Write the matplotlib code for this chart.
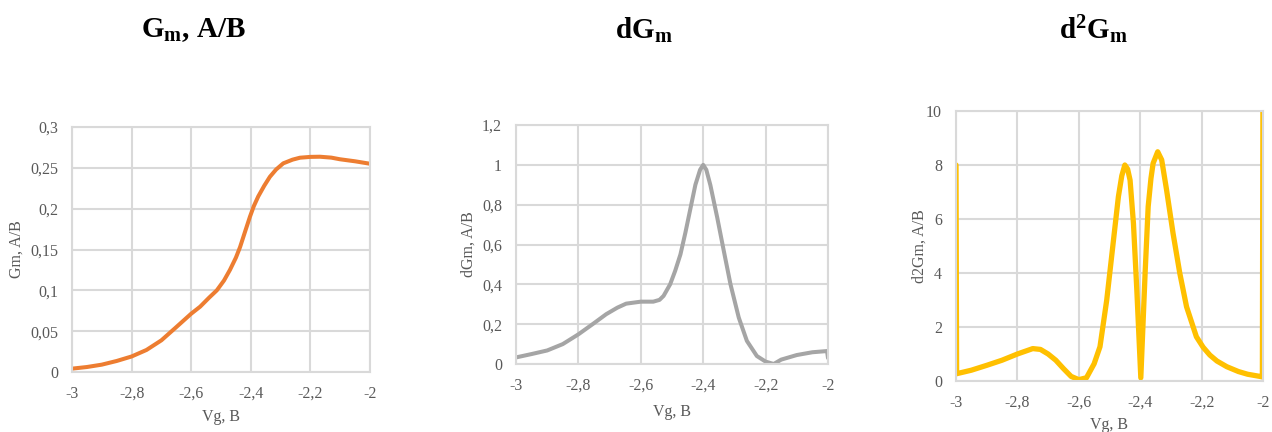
import matplotlib
matplotlib.use("Agg")
import matplotlib.pyplot as plt

plt.rcParams['font.family'] = ['Liberation Serif', 'DejaVu Serif']
plt.rcParams['mathtext.fontset'] = 'custom'
plt.rcParams['mathtext.rm'] = 'Liberation Serif'
plt.rcParams['mathtext.bf'] = 'Liberation Serif:bold'
plt.rcParams['mathtext.it'] = 'Liberation Serif:italic'

# ---- data ----
vg_gm = [-3.00, -2.95, -2.90, -2.85, -2.80, -2.75, -2.70, -2.65, -2.60, -2.57,
         -2.54, -2.514, -2.49, -2.47, -2.45, -2.436, -2.42, -2.403, -2.39, -2.375,
         -2.355, -2.336, -2.315, -2.291, -2.26, -2.235, -2.20, -2.168, -2.13, -2.101,
         -2.05, -2.00]
gm = [0.0041, 0.0061, 0.009, 0.0135, 0.019, 0.027, 0.0388, 0.055, 0.0714, 0.080,
      0.091, 0.100, 0.112, 0.125, 0.140, 0.153, 0.171, 0.190, 0.203, 0.215,
      0.228, 0.239, 0.248, 0.2555, 0.260, 0.2624, 0.2634, 0.2636, 0.2625, 0.2605,
      0.258, 0.255]

vg_dgm = [-3.00, -2.95, -2.90, -2.85, -2.80, -2.75, -2.711, -2.675, -2.647, -2.60,
          -2.56, -2.54, -2.527, -2.506, -2.49, -2.473, -2.457, -2.441, -2.425, -2.41,
          -2.40, -2.39, -2.377, -2.355, -2.334, -2.3125, -2.286, -2.26, -2.228, -2.20,
          -2.174, -2.15, -2.10, -2.05, -2.003, -2.00]
dgm = [0.033, 0.05, 0.068, 0.10, 0.149, 0.205, 0.25, 0.283, 0.303, 0.313,
       0.313, 0.322, 0.342, 0.40, 0.467, 0.55, 0.66, 0.78, 0.90, 0.975,
       1.0, 0.975, 0.898, 0.735, 0.568, 0.40, 0.233, 0.116, 0.04, 0.012,
       0.0, 0.022, 0.045, 0.059, 0.065, 0.03]

vg_d2gm = [-3.00, -2.998, -2.95, -2.90, -2.85, -2.80, -2.775, -2.75, -2.725, -2.70,
           -2.675, -2.65, -2.625, -2.60, -2.575, -2.55, -2.531, -2.509, -2.487, -2.471,
           -2.46, -2.45, -2.441, -2.433, -2.422, -2.411, -2.398, -2.384, -2.374, -2.365,
           -2.358, -2.343, -2.33, -2.314, -2.293, -2.271, -2.249, -2.217, -2.195, -2.173,
           -2.15, -2.118, -2.08, -2.05, -2.01, -2.002, -2.00]
d2gm = [8.0, 0.27, 0.4, 0.58, 0.77, 1.0, 1.1, 1.2, 1.17, 1.0,
        0.77, 0.46, 0.17, 0.05, 0.12, 0.64, 1.27, 3.0, 5.22, 6.83,
        7.6, 8.0, 7.85, 7.44, 5.84, 3.37, 0.12, 4.0, 6.46, 7.5,
        8.06, 8.49, 8.19, 7.07, 5.47, 3.99, 2.75, 1.64, 1.25, 0.96,
        0.74, 0.53, 0.35, 0.25, 0.17, 0.15, 12.0]

x_ticks = [-3, -2.8, -2.6, -2.4, -2.2, -2]
x_labels = ['-3', '-2,8', '-2,6', '-2,4', '-2,2', '-2']
gm_ticks = [0, 0.05, 0.1, 0.15, 0.2, 0.25, 0.3]
gm_labels = ['0', '0,05', '0,1', '0,15', '0,2', '0,25', '0,3']
dgm_ticks = [0, 0.2, 0.4, 0.6, 0.8, 1.0, 1.2]
dgm_labels = ['0', '0,2', '0,4', '0,6', '0,8', '1', '1,2']
d2gm_ticks = [0, 2, 4, 6, 8, 10]
d2gm_labels = ['0', '2', '4', '6', '8', '10']

W, H = 1272, 432
fig = plt.figure(figsize=(W / 100, H / 100), dpi=100)

TXT = '#595959'
GRID = '#D9D9D9'


def make_ax(box, x, y, color, lw, yt, yl, ylim, ylabel, xlab_y, ylab_x):
    l, t, r, b = box
    ax = fig.add_axes([l / W, 1 - b / H, (r - l) / W, (b - t) / H])
    ax.plot(x, y, color=color, lw=lw, solid_capstyle='round', solid_joinstyle='round')
    ax.set_xlim(-3, -2)
    ax.set_ylim(*ylim)
    ax.set_xticks(x_ticks)
    ax.set_xticklabels(x_labels)
    ax.set_yticks(yt)
    ax.set_yticklabels(yl)
    ax.grid(True, color=GRID, lw=1.5)
    ax.set_axisbelow(True)
    for s in ax.spines.values():
        s.set_color(GRID)
        s.set_linewidth(1.5)
    ax.tick_params(length=0, labelsize=11.5, labelcolor=TXT, pad=10)
    fig.text(((l + r) / 2) / W, 1 - xlab_y / H, 'Vg, B', ha='center', va='center',
             fontsize=11.5, color=TXT)
    fig.text(ylab_x / W, 1 - ((t + b) / 2) / H, ylabel, ha='center', va='center',
             rotation=90, fontsize=11.5, color=TXT)
    return ax


make_ax((72, 127, 370, 372), vg_gm, gm, '#ED7D31', 2.9, gm_ticks, gm_labels,
        (0, 0.3), 'Gm, A/B', 417, 17)
make_ax((516, 125, 828, 364), vg_dgm, dgm, '#A5A5A5', 2.9, dgm_ticks, dgm_labels,
        (0, 1.2), 'dGm, A/B', 412, 469)
make_ax((956, 111, 1263, 381), vg_d2gm, d2gm, '#FFC000', 3.8, d2gm_ticks, d2gm_labels,
        (0, 10), 'd2Gm, A/B', 425, 920)

fig.text(193 / W, 1 - 30 / H, r'$\mathbf{G_m}$, A/B', ha='center', va='center',
         fontsize=21, fontweight='bold')
fig.text(644 / W, 1 - 30 / H, r'$\mathbf{dG_m}$', ha='center', va='center',
         fontsize=21, fontweight='bold')
fig.text(1093 / W, 1 - 30 / H, r'$\mathbf{d^2G_m}$', ha='center', va='center',
         fontsize=21, fontweight='bold')

fig.savefig('out.png', dpi=100)
